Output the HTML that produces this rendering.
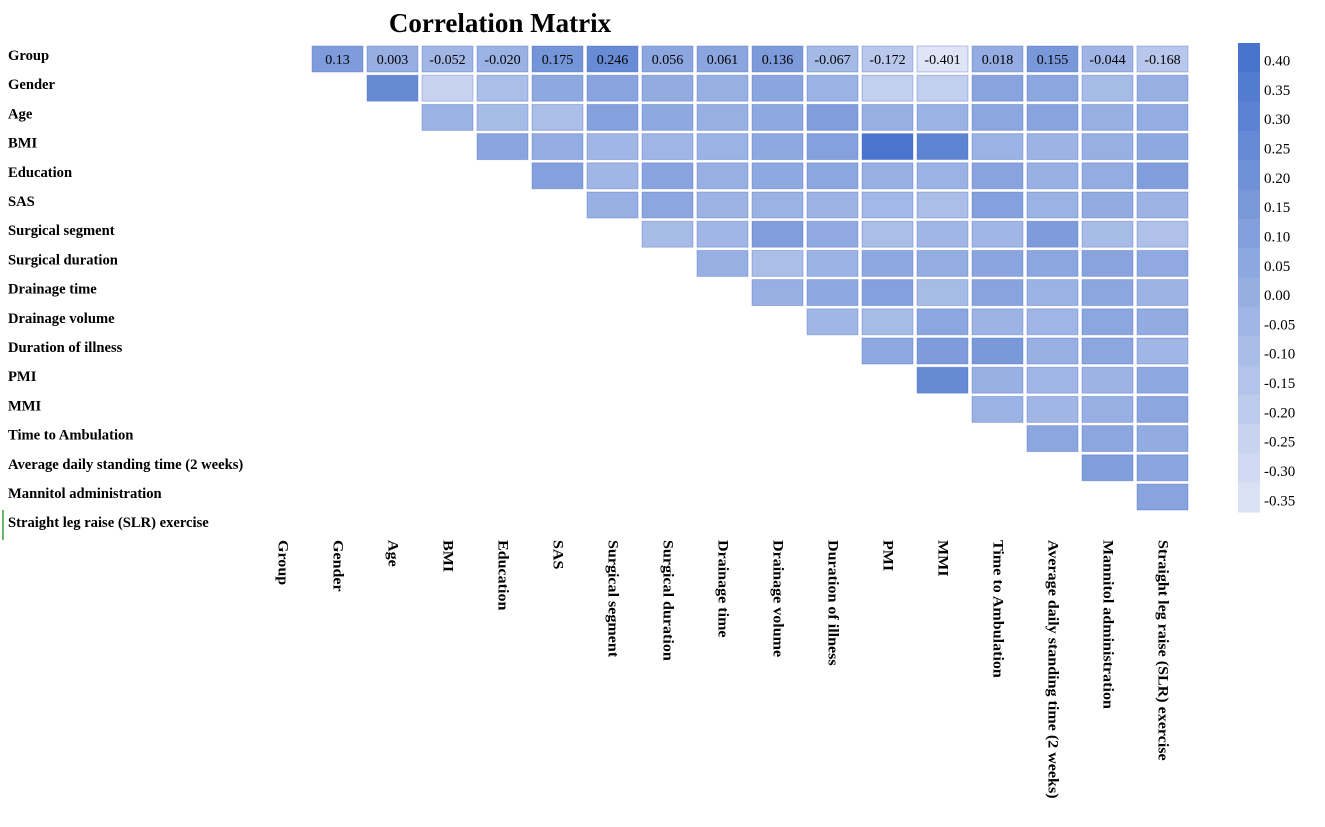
<!DOCTYPE html>
<html><head><meta charset="utf-8"><style>
body{margin:0;background:#fff;}
svg text{font-family:"Liberation Serif",serif;}
</style></head><body>
<svg id="chart" width="1325" height="822" xmlns="http://www.w3.org/2000/svg">
<text x="500" y="32" text-anchor="middle" font-size="27" font-weight="bold">Correlation Matrix</text>
<line x1="3" y1="510" x2="3" y2="540" stroke="#3a9a3a" stroke-width="1.5"/>
<g id="cells"></g><g id="rowlabels"></g><g id="collabels"></g><g id="cbar"></g>
</svg>
<script>
const variables = ["Group","Gender","Age","BMI","Education","SAS","Surgical segment","Surgical duration","Drainage time","Drainage volume","Duration of illness","PMI","MMI","Time to Ambulation","Average daily standing time (2 weeks)","Mannitol administration","Straight leg raise (SLR) exercise"];
const groupRow = [0.13,0.003,-0.052,-0.020,0.175,0.246,0.056,0.061,0.136,-0.067,-0.172,-0.401,0.018,0.155,-0.044,-0.168];
const groupRowLabels = ["0.13","0.003","-0.052","-0.020","0.175","0.246","0.056","0.061","0.136","-0.067","-0.172","-0.401","0.018","0.155","-0.044","-0.168"];
const upperRows = [
 [0.25,-0.25,-0.1,0.05,0.08,0.03,0.0,0.07,-0.02,-0.22,-0.22,0.08,0.06,-0.08,0.0],
 [-0.02,-0.08,-0.1,0.1,0.05,0.0,0.05,0.12,0.0,-0.02,0.06,0.08,0.0,0.02],
 [0.07,0.02,-0.05,-0.04,-0.02,0.05,0.1,0.4,0.3,-0.02,-0.03,0.0,0.05],
 [0.1,-0.05,0.08,0.0,0.05,0.06,0.0,-0.02,0.08,0.0,0.02,0.12],
 [0.0,0.06,-0.03,-0.02,-0.03,-0.06,-0.1,0.1,-0.02,0.03,-0.03],
 [-0.08,-0.05,0.12,0.04,-0.1,-0.05,-0.05,0.13,-0.08,-0.12],
 [0.0,-0.1,-0.02,0.05,0.02,0.07,0.06,0.08,0.04],
 [0.0,0.05,0.1,-0.08,0.08,-0.02,0.06,-0.03],
 [-0.05,-0.08,0.06,-0.03,-0.04,0.06,0.03],
 [0.05,0.13,0.15,0.0,0.06,-0.05],
 [0.25,-0.01,-0.04,-0.03,0.05],
 [-0.02,-0.05,0.0,0.06],
 [0.06,0.06,0.03],
 [0.12,0.07],
 [0.08]
];
const cbarTicks = [0.40,0.35,0.30,0.25,0.20,0.15,0.10,0.05,0.00,-0.05,-0.10,-0.15,-0.20,-0.25,-0.30,-0.35];
const vMin=-0.37, vMax=0.43;
const NS="http://www.w3.org/2000/svg";
function color(v){let t=(v-vMin)/(vMax-vMin);t=Math.max(0,Math.min(1,t));
 const a=[223,229,246],b=[68,112,204];
 return `rgb(${a.map((c,i)=>Math.round(c+(b[i]-c)*t)).join(',')})`;}
const colX=j=>257+j*55, rowY=r=>46+r*29.2, cw=51, ch=26;
function mk(tag,attrs,parent){const e=document.createElementNS(NS,tag);for(const k in attrs)e.setAttribute(k,attrs[k]);parent.appendChild(e);return e;}
const cells=document.getElementById('cells');
function cell(r,j,v,label){
 const g=mk('g',{},cells);
 
 
 mk('rect',{x:colX(j),y:rowY(r),width:cw,height:ch,fill:color(v),stroke:'rgba(70,100,190,0.35)','stroke-width':1},g);
 if(label){const t=mk('text',{x:colX(j)+cw/2,y:rowY(r)+18,'text-anchor':'middle','font-size':14},g);t.textContent=label;}
}
groupRow.forEach((v,k)=>cell(0,k+1,v,groupRowLabels[k]));
upperRows.forEach((row,i)=>row.forEach((v,k)=>cell(i+1,i+2+k,v,null)));
const rl=document.getElementById('rowlabels'), cl=document.getElementById('collabels');
variables.forEach((n,i)=>{
 const t=mk('text',{x:8,y:rowY(i)+14,'font-size':14.6,'font-weight':'bold'},rl);t.textContent=n;
 
 
 const cx=colX(i)+cw/2;
 const c=mk('text',{x:0,y:0,'font-size':14.6,'font-weight':'bold',transform:`translate(${cx-4},540) rotate(90) scale(1.1,1)`},cl);c.textContent=n;
 
 
});
const cb=document.getElementById('cbar');
const cbTop=43, cbBot=512, cbX=1238, cbW=22;
const yv=v=>cbTop+(vMax-v)/(vMax-vMin)*(cbBot-cbTop);
for(let k=0;k<16;k++){const hi=vMax-k*0.05, lo=Math.max(vMin,hi-0.05);
 const r=mk('rect',{x:cbX,y:yv(hi),width:cbW,height:yv(lo)-yv(hi)+0.5,fill:color((hi+lo)/2)},cb);
 
 }
cbarTicks.forEach(v=>{const t=mk('text',{x:1264,y:yv(v)+5,'font-size':15},cb);t.textContent=v.toFixed(2);
 
 });
</script>
</body></html>
